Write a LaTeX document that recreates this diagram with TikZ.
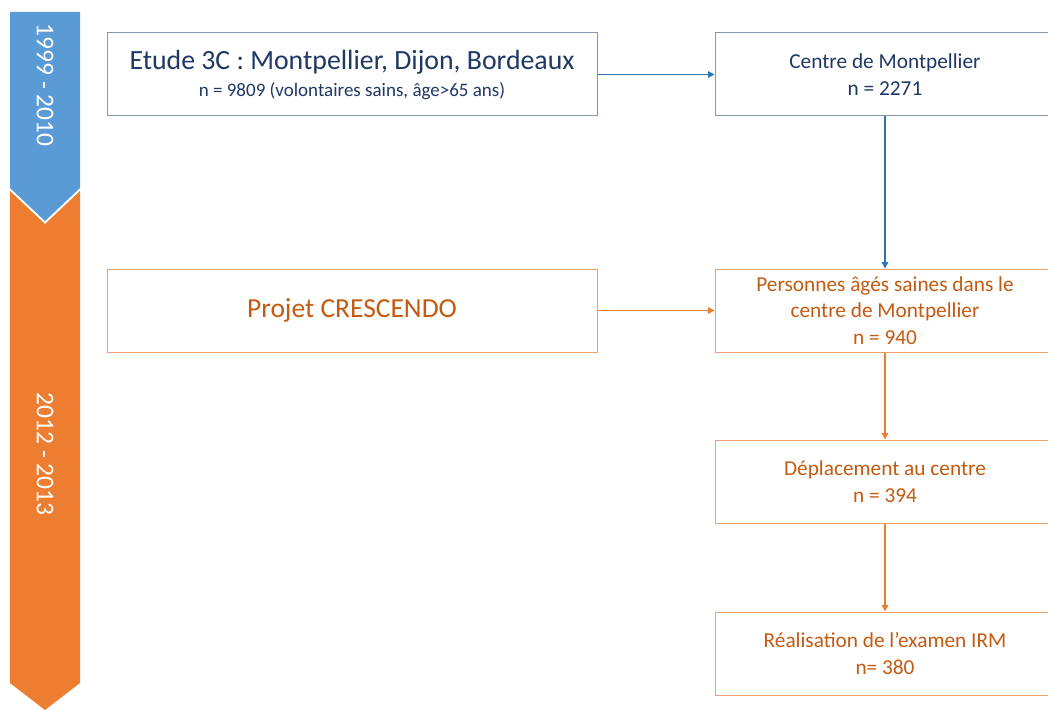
\documentclass[tikz,border=0pt]{standalone}
\usepackage{fontspec}
\setmainfont{Carlito}
\usetikzlibrary{arrows.meta}
\definecolor{bandblue}{HTML}{5B9BD5}
\definecolor{bandorange}{HTML}{ED7D31}
\definecolor{navytext}{HTML}{1F3864}
\definecolor{navyline}{HTML}{8497B0}
\definecolor{arrowblue}{HTML}{2E75B6}
\definecolor{orangetext}{HTML}{C55A11}
\definecolor{orangeline}{HTML}{F0A06A}
\definecolor{orangearrow}{HTML}{ED7D31}
\tikzset{
  bluebox/.style={draw=navyline, line width=1pt, fill=white, text=navytext, align=center, inner sep=0pt, minimum height=83pt},
  orangebox/.style={draw=orangeline, line width=1pt, fill=white, text=orangetext, align=center, inner sep=0pt, minimum height=83pt},
  boxfont/.style={font=\fontsize{21.3}{26.5}\selectfont},
  bluearrow/.style={draw=arrowblue, line width=1.4pt, -{Triangle[length=6.5pt,width=6.5pt]}},
  orangearrow/.style={draw=orangearrow, line width=1.4pt, -{Triangle[length=6.5pt,width=6.5pt]}},
  bandtext/.style={text=white, font=\fontsize{25.5}{30}\selectfont, rotate=-90}
}
\begin{document}
\begin{tikzpicture}[x=1pt,y=-1pt]
\useasboundingbox (0,0) rectangle (1048,711);
\clip (0,0) rectangle (1048,711);
% timeline band
\fill[bandblue] (10,12) -- (80,12) -- (80,188) -- (45,221) -- (10,188) -- cycle;
\fill[bandorange] (10,191) -- (45,224) -- (80,191) -- (80,683) -- (45,710) -- (10,683) -- cycle;
\node[bandtext] (t1) at (45,85) {1999 - 2010};
\node[bandtext] (t2) at (45,454) {2012 - 2013};
% boxes
\node[bluebox, minimum width=490pt, font=\fontsize{19}{24}\selectfont] (etude) at (352,74.5)
  {{\fontsize{27.8}{30}\selectfont Etude 3C : Montpellier, Dijon, Bordeaux}\\[3pt]
   n = 9809 (volontaires sains, âge>65 ans)};
\node[bluebox, boxfont, minimum width=340pt] (centre) at (885,74.5)
  {Centre de Montpellier\\ n = 2271};
\node[orangebox, minimum width=490pt, font=\fontsize{27.5}{30}\selectfont] (projet) at (352,310.5)
  {Projet CRESCENDO};
\node[orangebox, boxfont, minimum width=340pt] (personnes) at (885,310.5)
  {Personnes âgés saines dans le\\ centre de Montpellier\\ n = 940};
\node[orangebox, boxfont, minimum width=340pt] (deplacement) at (885,481.5)
  {Déplacement au centre\\ n = 394};
\node[orangebox, boxfont, minimum width=340pt] (irm) at (885,653.5)
  {Réalisation de l’examen IRM\\ n= 380};
% connectors
\draw[bluearrow] (etude.east) -- (centre.west);
\draw[bluearrow] (centre.south) -- (personnes.north);
\draw[orangearrow] (projet.east) -- (personnes.west);
\draw[orangearrow] (personnes.south) -- (deplacement.north);
\draw[orangearrow] (deplacement.south) -- (irm.north);
\end{tikzpicture}
\end{document}
